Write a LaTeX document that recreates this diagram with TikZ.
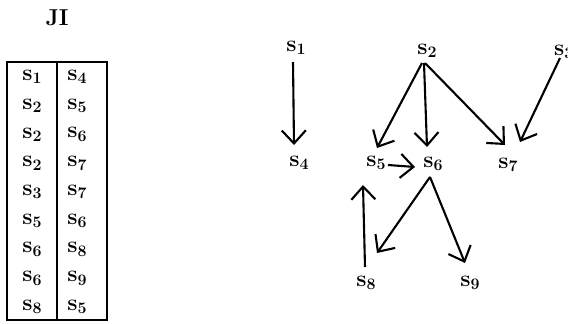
\documentclass[tikz,border=0pt]{standalone}
\usepackage{fontspec}
\setmainfont{Latin Modern Roman}
\usetikzlibrary{arrows.meta,calc}
\newcommand\mysubidx[1]{\raisebox{-0.33ex}{\fontsize{16}{18}\selectfont\bfseries #1}}
\begin{document}
\begin{tikzpicture}[x=1pt,y=-1pt,
  lbl/.style={font=\fontsize{23}{26}\selectfont\bfseries, inner sep=0pt},
  arr/.style={-{Straight Barb[length=13pt,width=24pt]}, line width=2.1pt},
  tbl/.style={draw, line width=2pt, minimum width=100pt, minimum height=258pt, inner sep=0pt}]
\useasboundingbox (0,0) rectangle (568,324);
\node[lbl] (title) at (57,18) {JI};
\node[tbl] (table) at (57,191) {};
\draw[line width=1.3pt] (table.north) -- (table.south);
\foreach \i/\a/\b in {1/1/4,2/2/5,3/2/6,4/2/7,5/3/7,6/5/6,7/6/8,8/6/9,9/8/5}{
  \node[lbl] (l\i) at (32,{77+28.75*(\i-1)}) {s\mysubidx{\a}};
  \node[lbl] (r\i) at (77,{77+28.75*(\i-1)}) {s\mysubidx{\b}};
}
\node[lbl] (s1) at (296,48) {s\mysubidx{1}};
\node[lbl] (s2) at (427,51) {s\mysubidx{2}};
\node[lbl,anchor=west] (s3) at (554,52) {s\mysubidx{3}};
\node[lbl] (s4) at (299,163) {s\mysubidx{4}};
\node[lbl] (s5) at (376,163) {s\mysubidx{5}};
\node[lbl] (s6) at (433,164) {s\mysubidx{6}};
\node[lbl] (s7) at (508,165) {s\mysubidx{7}};
\node[lbl] (s8) at (366,283) {s\mysubidx{8}};
\node[lbl] (s9) at (470,283) {s\mysubidx{9}};
\draw[arr] ($(s1)+(-3,14)$) -- ($(s4)+(-5,-18)$);
\draw[arr] ($(s2)+(-5,12)$) -- ($(s5)+(1,-15)$);
\draw[arr] ($(s2)+(-3,12)$) -- ($(s6)+(-6,-17)$);
\draw[arr] ($(s2)+(-2,12)$) -- ($(s7)+(-3,-20)$);
\draw[arr] ($(s3.west)+(6,6)$) -- ($(s7)+(12,-23)$);
\draw[arr] ($(s5)+(12,2)$) -- ($(s6)+(-18,3)$);
\draw[arr] ($(s8)+(-1,-16)$) -- ($(s5)+(-13,22)$);
\draw[arr] ($(s6)+(-3,13)$) -- ($(s8)+(11,-30)$);
\draw[arr] ($(s6)+(-3,13)$) -- ($(s9)+(-5,-20)$);
\end{tikzpicture}
\end{document}
